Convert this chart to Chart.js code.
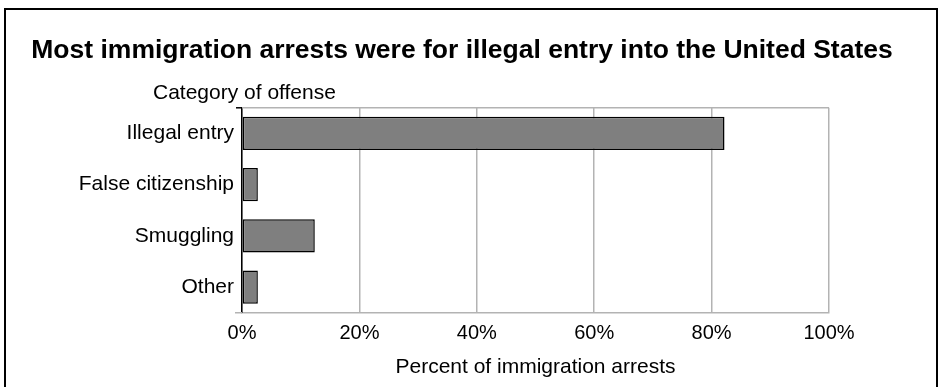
<!DOCTYPE html>
<html>
<head>
<meta charset="utf-8">
<script src="https://cdn.jsdelivr.net/npm/chart.js@4"></script>
<style>
  html, body { margin: 0; padding: 0; background: #fff; }
  #wrap { position: relative; width: 938px; height: 387px; }
  #frame {
    position: absolute; left: 4px; top: 8px; width: 930px; height: 400px;
    border: 2px solid #000; border-bottom: none; pointer-events: none;
  }
</style>
</head>
<body>
<div id="wrap">
  <canvas id="myChart" width="938" height="387"></canvas>
  <div id="frame"></div>
</div>
<script>
const categories = ["Illegal entry", "False citizenship", "Smuggling", "Other"];
const shares = [82.2, 2.7, 12.4, 2.7];
const tickValues = [0, 20, 40, 60, 80, 100];

const FONT = "'Liberation Sans', Arial, Helvetica, sans-serif";

// top border of the plot, small corner ticks and the "Category of offense" heading
const frameExtras = {
  id: "frameExtras",
  afterDraw(chart) {
    const { ctx, chartArea } = chart;
    ctx.save();
    ctx.lineWidth = 1.5;
    ctx.strokeStyle = "#b3b3b3";
    ctx.beginPath();
    ctx.moveTo(chartArea.left, chartArea.top);
    ctx.lineTo(chartArea.right, chartArea.top);
    ctx.moveTo(chartArea.left - 7, chartArea.bottom);
    ctx.lineTo(chartArea.left, chartArea.bottom);
    ctx.stroke();
    ctx.strokeStyle = "#000";
    ctx.beginPath();
    ctx.moveTo(chartArea.left - 6, chartArea.top);
    ctx.lineTo(chartArea.left, chartArea.top);
    ctx.stroke();
    ctx.fillStyle = "#000";
    ctx.font = "21px " + FONT;
    ctx.textBaseline = "alphabetic";
    ctx.fillText("Category of offense", chartArea.left - 89, chartArea.top - 9);
    ctx.restore();
  }
};

(function () {
  const ctx = document.getElementById("myChart");

  new Chart(ctx, {
    type: "bar",
    data: {
      labels: categories,
      datasets: [
        {
          data: shares,
          backgroundColor: "#7f7f7f",
          borderColor: "#000",
          borderWidth: 1.5,
          borderSkipped: false,
          categoryPercentage: 1,
          barPercentage: 0.65,
        },
      ],
    },
    options: {
      indexAxis: "y",
      responsive: false,
      animation: false,
      layout: { padding: { left: 0, right: 14, bottom: 7 } },
      scales: {
        x: {
          min: 0,
          max: 100,
          afterBuildTicks: (scale) => {
            scale.ticks = tickValues.map((v) => ({ value: v }));
          },
          ticks: {
            callback: (v) => v + "%",
            color: "#000",
            font: { family: FONT, size: 20 },
            padding: 9,
            maxRotation: 0,
          },
          grid: { color: "#b3b3b3", lineWidth: 1.5, drawTicks: false },
          border: { color: "#b3b3b3", width: 1.5 },
          title: {
            display: true,
            text: "Percent of immigration arrests",
            color: "#000",
            font: { family: FONT, size: 21 },
            padding: { top: 0, bottom: 0 },
          },
        },
        y: {
          afterFit: (scale) => {
            scale.width = 242;
          },
          ticks: {
            color: "#000",
            font: { family: FONT, size: 21 },
            padding: 8,
          },
          grid: { display: false, drawTicks: false },
          border: { color: "#000", width: 1.5 },
        },
        // empty right-hand axis that only reserves the margin beside the plot
        yRight: {
          type: "linear",
          position: "right",
          afterFit: (scale) => {
            scale.width = 95;
          },
          ticks: { display: false },
          grid: { display: false, drawTicks: false },
          border: { display: false },
        },
      },
      plugins: {
        legend: { display: false },
        tooltip: { enabled: false },
        title: {
          display: true,
          text: "Most immigration arrests were for illegal entry into the United States",
          color: "#000",
          font: { family: FONT, size: 26.5, weight: "bold" },
          padding: { top: 35, bottom: 41 },
        },
      },
    },
    plugins: [frameExtras],
  });
})();
</script>
</body>
</html>
